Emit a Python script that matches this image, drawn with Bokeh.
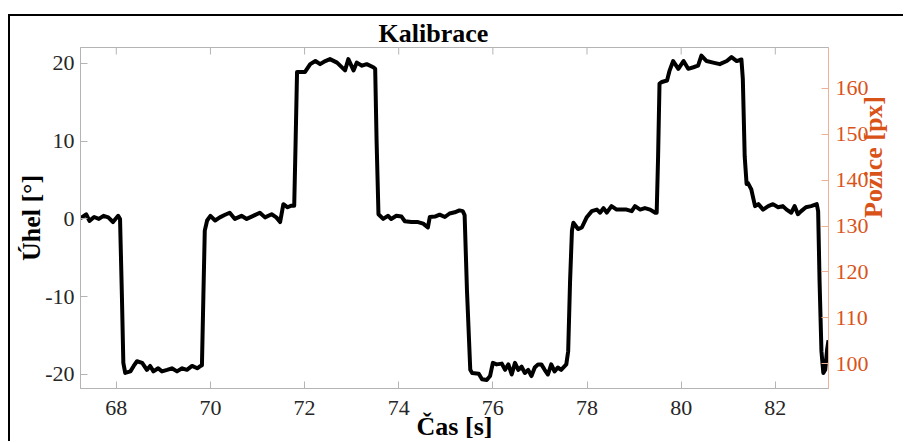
import math
from bokeh.plotting import figure
from bokeh.models import Range1d, LinearAxis, FixedTicker, Title
from bokeh.embed import file_html
from bokeh.resources import INLINE

# ---------------- data ----------------
x_ticks = [68, 70, 72, 74, 76, 78, 80, 82]
angle_ticks = [-20, -10, 0, 10, 20]
pos_ticks = [100, 110, 120, 130, 140, 150, 160]

time_s = [
    67.24, 67.26, 67.36, 67.43, 67.53, 67.63, 67.73, 67.83, 67.93, 68.04,
    68.08, 68.12, 68.15, 68.19, 68.30, 68.37, 68.44, 68.55, 68.65, 68.72,
    68.79, 68.89, 68.97, 69.08, 69.18, 69.29, 69.40, 69.50, 69.61, 69.72, 69.79,
    69.82, 69.85, 69.88, 69.93, 70.00, 70.10, 70.20, 70.30, 70.41, 70.52,
    70.66, 70.77, 70.91, 71.05, 71.16, 71.30, 71.40, 71.48, 71.55, 71.64, 71.72, 71.78,
    71.81, 71.84, 71.93, 72.01, 72.12, 72.23, 72.33, 72.44, 72.54, 72.69,
    72.86, 72.93, 73.04, 73.11, 73.22, 73.32, 73.46, 73.50,
    73.53, 73.57, 73.67, 73.77, 73.84, 73.95, 74.06, 74.13, 74.27, 74.41,
    74.52, 74.62, 74.66, 74.77, 74.87, 74.98, 75.08, 75.19, 75.29, 75.36, 75.40,
    75.45, 75.52, 75.56, 75.70, 75.77, 75.87, 75.94, 76.00, 76.08, 76.19,
    76.26, 76.33, 76.40, 76.47, 76.54, 76.61, 76.68, 76.75, 76.82, 76.89,
    76.96, 77.03, 77.10, 77.17, 77.24, 77.31, 77.38, 77.45, 77.56,
    77.60, 77.64, 77.68, 77.71, 77.81, 77.89, 77.99, 78.10, 78.21, 78.28,
    78.35, 78.42, 78.52, 78.63, 78.74, 78.84, 78.95, 79.02, 79.13, 79.23, 79.34, 79.45, 79.48,
    79.51, 79.54, 79.59, 79.70, 79.75, 79.83, 79.94, 80.05, 80.15, 80.26,
    80.36, 80.43, 80.54, 80.68, 80.82, 80.97, 81.07, 81.18, 81.28,
    81.31, 81.35, 81.39, 81.42, 81.49, 81.53, 81.57, 81.64, 81.74, 81.85,
    81.95, 82.06, 82.16, 82.24, 82.34, 82.41, 82.48, 82.55, 82.65, 82.76, 82.88,
    82.91, 82.94, 82.98, 83.02, 83.06, 83.10, 83.13,
]

angle_deg = [
    0.3, 0.17, 0.6, -0.25, 0.25, 0.0, 0.4, 0.2, -0.4, 0.4,
    0.0, -10.0, -18.5, -19.8, -19.6, -18.9, -18.3, -18.5, -19.4, -18.9,
    -19.6, -19.2, -19.6, -19.4, -19.2, -19.6, -19.2, -19.4, -18.9, -19.2, -18.9,
    -18.8, -10.0, -1.5, -0.2, 0.4, -0.2, 0.2, 0.5, 0.8, 0.0,
    0.4, 0.0, 0.4, 0.8, 0.2, 0.6, 0.2, -0.4, 1.9, 1.5, 1.7, 1.7,
    10.0, 18.9, 18.9, 18.9, 19.9, 20.3, 19.9, 20.3, 20.55, 20.1,
    19.1, 20.55, 19.1, 20.1, 19.7, 19.9, 19.5, 19.3,
    10.0, 0.6, 0.0, 0.4, 0.0, 0.4, 0.3, -0.3, -0.4, -0.4,
    -0.6, -1.1, 0.25, 0.3, 0.55, 0.25, 0.7, 0.85, 1.1, 1.0, 0.5,
    -9.2, -19.4, -19.8, -19.9, -20.6, -20.7, -20.2, -18.5, -18.7, -18.6,
    -19.4, -18.7, -20.0, -18.5, -19.4, -19.0, -19.8, -19.4, -20.2, -19.1,
    -18.7, -18.7, -19.4, -20.0, -18.7, -19.6, -19.1, -19.4, -18.7,
    -17.0, -8.0, -1.5, -0.5, -1.3, -1.1, 0.17, 1.0, 1.2, 0.8,
    1.4, 0.8, 1.65, 1.2, 1.2, 1.2, 1.0, 1.65, 1.2, 1.4, 1.2, 0.8, 0.8,
    8.0, 17.4, 17.6, 17.8, 19.0, 20.3, 19.3, 20.3, 19.3, 19.5,
    19.7, 21.0, 20.3, 20.1, 19.9, 20.3, 20.8, 20.3, 20.5,
    18.0, 8.0, 4.5, 4.6, 3.8, 2.7, 1.65, 1.9, 1.2, 1.65,
    1.9, 1.5, 1.65, 1.2, 0.8, 1.65, 0.6, 1.0, 1.5, 1.65, 1.9,
    1.0, -8.0, -17.0, -19.8, -19.4, -16.8, -15.6,
]
assert len(time_s) == len(angle_deg)

title_text = "Kalibrace"
x_label = "Čas [s]"
y_label = "Úhel [°]"
y2_label = "Pozice [px]"

x_lo, x_hi = 67.24, 83.13
y_lo, y_hi = -21.8, 22.04
pos_lo, pos_hi = 94.6, 168.9

# ---------------- styling ----------------
SERIF = "Liberation Serif"
GRAY = "#b4b4b4"
TICK_TXT = "#262626"
ORANGE = "#d95319"
ORANGE_LIGHT = "#f0b096"

p = figure(
    width=895, height=427,
    output_backend="svg", toolbar_location=None,
    x_range=Range1d(x_lo, x_hi), y_range=Range1d(y_lo, y_hi),
    x_axis_location=None, y_axis_location=None,
    min_border_left=70, min_border_right=74, min_border_top=30, min_border_bottom=53,
    styles={"border-left": "2px solid black", "border-top": "2px solid black",
            "margin-left": "8px", "margin-top": "14px"},
)
p.extra_y_ranges = {"pos": Range1d(pos_lo, pos_hi)}
p.outline_line_color = GRAY
p.outline_line_width = 1
p.background_fill_color = "white"
p.border_fill_color = "white"
for g in p.grid:
    g.visible = False

# title (placed over the left part as in the reference)
p.add_layout(Title(text=title_text, align="left", offset=298, standoff=0,
                   text_font=SERIF, text_font_style="bold", text_font_size="26px",
                   text_color="black"), "above")


def style_axis(ax, line_color, label_color):
    ax.axis_line_color = line_color
    ax.axis_line_width = 1
    ax.major_tick_line_color = line_color
    ax.major_tick_in = 7
    ax.major_tick_out = 0
    ax.minor_tick_line_color = None
    ax.major_label_text_font = SERIF
    ax.major_label_text_font_size = "22px"
    ax.major_label_text_color = label_color
    ax.axis_label_text_font = SERIF
    ax.axis_label_text_font_style = "bold"
    ax.axis_label_text_font_size = "26px"


bottom = LinearAxis(ticker=FixedTicker(ticks=x_ticks), axis_label=x_label)
style_axis(bottom, GRAY, TICK_TXT)
bottom.major_label_standoff = 12
bottom.axis_label_standoff = -6
bottom.axis_label_text_color = "black"
p.add_layout(bottom, "below")

left = LinearAxis(ticker=FixedTicker(ticks=angle_ticks), axis_label=y_label)
style_axis(left, GRAY, TICK_TXT)
left.major_label_overrides = {t: str(t) for t in angle_ticks}
left.major_label_standoff = 6
left.axis_label_standoff = -4
left.axis_label_text_color = "black"
p.add_layout(left, "left")

right = LinearAxis(y_range_name="pos", ticker=FixedTicker(ticks=pos_ticks),
                   axis_label=y2_label)
style_axis(right, ORANGE_LIGHT, ORANGE)
right.major_label_standoff = 7
right.axis_label_standoff = 2
right.axis_label_text_line_height = 0.9
right.axis_label_orientation = math.pi / 2
right.axis_label_text_color = ORANGE
p.add_layout(right, "right")

# small inward ticks on the top edge (box on)
tick_len = 0.9
p.segment(x0=x_ticks, y0=[y_hi] * len(x_ticks), x1=x_ticks,
          y1=[y_hi - tick_len] * len(x_ticks), line_color=GRAY, line_width=1)

p.line(time_s, angle_deg, line_color="black", line_width=4, line_join="round")

open("out.html", "w").write(file_html(p, INLINE))
